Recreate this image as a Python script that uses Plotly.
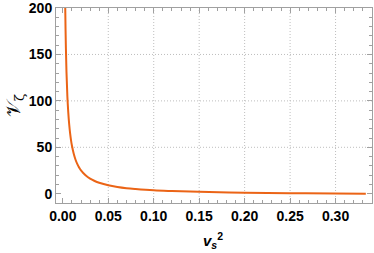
import plotly.graph_objects as go

# data
vs2 = [0.0025, 0.003, 0.004, 0.005, 0.006, 0.007, 0.008, 0.009, 0.010, 0.012,
       0.014, 0.016, 0.018, 0.020, 0.025, 0.030, 0.035, 0.040, 0.050, 0.060,
       0.070, 0.080, 0.100, 0.120, 0.150, 0.200, 0.250, 0.300, 0.3333]
V_zeta = [212, 177, 132, 105, 87.6, 74.8, 65.3, 57.8, 51.9, 43.0,
          36.6, 31.8, 28.1, 25.1, 19.8, 16.2, 13.7, 11.8, 9.1, 7.3,
          6.0, 5.1, 3.7, 2.9, 2.0, 1.1, 0.5, 0.2, 0.0]

x_ticks = [0.00, 0.05, 0.10, 0.15, 0.20, 0.25, 0.30]
x_tick_labels = ["0.00", "0.05", "0.10", "0.15", "0.20", "0.25", "0.30"]
y_ticks = [0, 50, 100, 150, 200]
y_tick_labels = ["0", "50", "100", "150", "200"]
x_grid = [0.05, 0.10, 0.15, 0.20, 0.25, 0.30]
y_grid = [50, 100, 150]

fig = go.Figure()
fig.add_trace(go.Scatter(x=vs2, y=V_zeta, mode="lines",
                         line=dict(color="rgb(235,100,22)", width=2, shape="spline"),
                         showlegend=False))

shapes = []
for gx in x_grid:
    shapes.append(dict(type="line", xref="x", yref="paper", x0=gx, x1=gx, y0=0, y1=1,
                       line=dict(color="rgb(190,190,190)", width=1, dash="1px,2px"), layer="below"))
for gy in y_grid:
    shapes.append(dict(type="line", xref="paper", yref="y", x0=0, x1=1, y0=gy, y1=gy,
                       line=dict(color="rgb(190,190,190)", width=1, dash="1px,2px"), layer="below"))

tickfont = dict(family="Liberation Sans", size=14, color="black")
axis_common = dict(showgrid=False, zeroline=False, showline=True, linecolor="rgb(160,160,160)",
                   linewidth=1, mirror="allticks", ticks="inside", ticklen=5, tickwidth=1,
                   tickcolor="rgb(160,160,160)", tickfont=tickfont, automargin=False,
                   ticklabeloverflow="allow")

fig.update_layout(
    width=374, height=253,
    margin=dict(l=56, r=2, t=8, b=50),
    paper_bgcolor="white", plot_bgcolor="white",
    shapes=shapes,
    xaxis=dict(range=[-0.0075, 0.3401], tickvals=x_ticks,
               ticktext=["<b>%s</b>" % t for t in x_tick_labels],
               minor=dict(dtick=0.01, tick0=0, ticks="inside", ticklen=3,
                          tickcolor="rgb(160,160,160)", showgrid=False),
               **axis_common),
    yaxis=dict(range=[-10, 200.05], tickvals=y_ticks,
               ticktext=["<b>%s</b>" % t for t in y_tick_labels],
               minor=dict(dtick=10, tick0=0, ticks="inside", ticklen=3,
                          tickcolor="rgb(160,160,160)", showgrid=False),
               **axis_common),
    annotations=[
        dict(text="<b><i>v</i><sub><i>s</i></sub><sup>2</sup></b>", xref="paper", yref="paper",
             x=(213 - 56) / 316, y=-(240 - 203) / 195, showarrow=False,
             xanchor="center", yanchor="middle",
             font=dict(family="Liberation Sans", size=15, color="black")),
        dict(text="𝒱<sub>ζ</sub>", xref="paper", yref="paper",
             x=-(56 - 14) / 316, y=(203 - 106) / 195, showarrow=False, textangle=-90,
             xanchor="center", yanchor="middle",
             font=dict(family="DejaVu Serif", size=19, color="black")),
    ],
)

fig.write_html("out.html", post_script="document.body.style.margin='0';",
               config={"displayModeBar": False})
